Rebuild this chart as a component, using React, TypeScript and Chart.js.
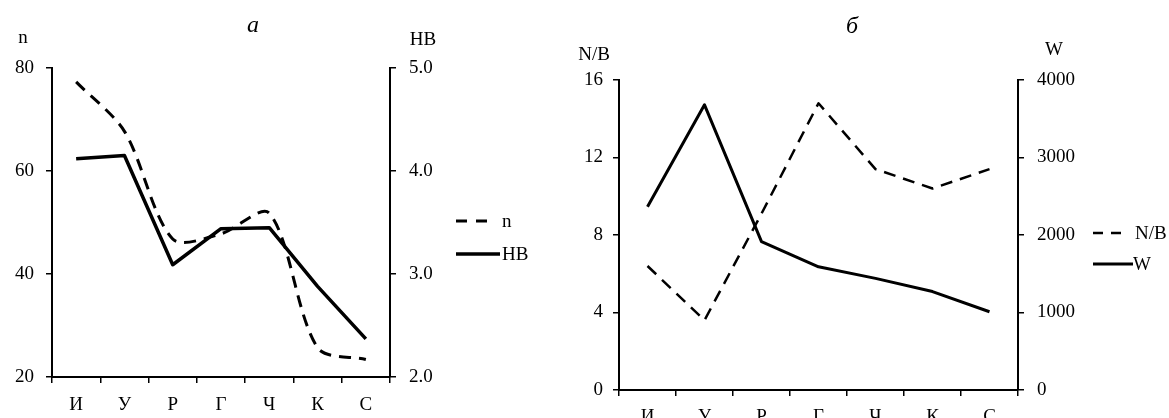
import { useEffect, useRef } from "react";
import { Chart, registerables } from "chart.js";

Chart.register(...registerables);

const FONT = '"Liberation Serif", "Times New Roman", serif';

// Shared categories
const categories = ["И", "У", "Р", "Г", "Ч", "К", "С"];

// Panel "a"
const nValues = [77.3, 67.7, 46.8, 47.8, 51.8, 25.7, 23.4];
const hbValues = [4.12, 4.15, 3.09, 3.44, 3.45, 2.88, 2.37];
const nTicks = [20, 40, 60, 80];
const hbTicks = [2, 3, 4, 5];

// Panel "б"
const nbValues = [6.4, 3.6, 9.1, 14.8, 11.4, 10.4, 11.4];
const wValues = [2365, 3680, 1915, 1590, 1440, 1270, 1010];
const nbTicks = [0, 4, 8, 12, 16];
const wTicks = [0, 1000, 2000, 3000, 4000];

type LegendSpec = { x0: number; x1: number; y: number; lw: number; dash: number[]; tx: number };
type OverlayOpts = {
  title: string;
  titleX: number;
  titleY: number;
  axisLabels: { text: string; x: number; y: number }[];
  legend: LegendSpec[];
};

const overlayPlugin = {
  id: "overlay",
  afterDraw(chart: any, _args: any, opts: OverlayOpts) {
    const ctx = chart.ctx as CanvasRenderingContext2D;
    ctx.save();
    ctx.fillStyle = "#000";
    ctx.strokeStyle = "#000";
    ctx.textAlign = "center";
    ctx.textBaseline = "alphabetic";
    ctx.font = `italic 24px ${FONT}`;
    ctx.fillText(opts.title, opts.titleX, opts.titleY);
    ctx.font = `19px ${FONT}`;
    for (const l of opts.axisLabels) ctx.fillText(l.text, l.x, l.y);
    opts.legend.forEach((item, i) => {
      const ds = chart.data.datasets[i];
      ctx.beginPath();
      ctx.setLineDash(item.dash);
      ctx.lineWidth = item.lw;
      ctx.lineCap = "butt";
      ctx.moveTo(item.x0, item.y);
      ctx.lineTo(item.x1, item.y);
      ctx.stroke();
      ctx.setLineDash([]);
      ctx.textAlign = "left";
      ctx.textBaseline = "middle";
      ctx.fillText(ds.label, item.tx, item.y + 1);
    });
    ctx.restore();
  },
};

type PanelSpec = {
  width: number;
  top: number;
  leftW: number;
  rightW: number;
  bottomH: number;
  leftTicks: number[];
  rightTicks: number[];
  rightDecimals: number;
  leftPad: number;
  rightPad: number;
  xPad: number;
  dashed: { label: string; data: number[]; width: number; tension: number };
  solid: { label: string; data: number[]; width: number };
  overlay: OverlayOpts;
};

function axisLine() {
  return { display: true, color: "#000", width: 2 };
}

function buildChart(canvas: HTMLCanvasElement, p: PanelSpec) {
  const tickFont = { family: FONT, size: 19 };
  return new Chart(canvas, {
    type: "line",
    data: {
      labels: categories,
      datasets: [
        {
          label: p.dashed.label,
          data: p.dashed.data,
          yAxisID: "y",
          borderColor: "#000",
          borderWidth: p.dashed.width,
          borderDash: [12, 8],
          tension: p.dashed.tension,
          pointRadius: 0,
          fill: false,
          borderJoinStyle: "round",
        },
        {
          label: p.solid.label,
          data: p.solid.data,
          yAxisID: "y1",
          borderColor: "#000",
          borderWidth: p.solid.width,
          tension: 0,
          pointRadius: 0,
          fill: false,
          borderJoinStyle: "round",
        },
      ],
    },
    options: {
      responsive: false,
      animation: false,
      events: [],
      layout: { padding: { top: p.top, left: 0, right: 0, bottom: 0 } },
      plugins: {
        legend: { display: false },
        tooltip: { enabled: false },
        title: { display: false },
        overlay: p.overlay,
      } as any,
      scales: {
        x: {
          type: "category",
          offset: true,
          afterFit: (s: any) => {
            s.height = p.bottomH;
          },
          grid: {
            offset: true,
            drawOnChartArea: false,
            drawTicks: true,
            tickLength: 6,
            color: "#000",
            lineWidth: 1.5,
          },
          border: axisLine(),
          ticks: { color: "#000", font: tickFont, padding: p.xPad, maxRotation: 0 },
        },
        y: {
          type: "linear",
          position: "left",
          min: p.leftTicks[0],
          max: p.leftTicks[p.leftTicks.length - 1],
          afterFit: (s: any) => {
            s.width = p.leftW;
          },
          grid: { drawOnChartArea: false, drawTicks: true, tickLength: 6, color: "#000", lineWidth: 1.5 },
          border: axisLine(),
          ticks: {
            stepSize: p.leftTicks[1] - p.leftTicks[0],
            color: "#000",
            font: tickFont,
            padding: p.leftPad,
          },
        },
        y1: {
          type: "linear",
          position: "right",
          min: p.rightTicks[0],
          max: p.rightTicks[p.rightTicks.length - 1],
          afterFit: (s: any) => {
            s.width = p.rightW;
          },
          grid: { drawOnChartArea: false, drawTicks: true, tickLength: 6, color: "#000", lineWidth: 1.5 },
          border: axisLine(),
          ticks: {
            stepSize: p.rightTicks[1] - p.rightTicks[0],
            color: "#000",
            font: tickFont,
            padding: p.rightPad,
            callback: (v: any) => Number(v).toFixed(p.rightDecimals),
          },
        },
      },
    },
    plugins: [overlayPlugin],
  } as any);
}

const panelA: PanelSpec = {
  width: 560,
  top: 68,
  leftW: 52,
  rightW: 170,
  bottomH: 41,
  leftTicks: nTicks,
  rightTicks: hbTicks,
  rightDecimals: 1,
  leftPad: 12,
  rightPad: 13,
  xPad: 11,
  dashed: { label: "n", data: nValues, width: 3, tension: 0.3 },
  solid: { label: "HB", data: hbValues, width: 3.5 },
  overlay: {
    title: "a",
    titleX: 253,
    titleY: 32,
    axisLabels: [
      { text: "n", x: 23, y: 43 },
      { text: "HB", x: 423, y: 45 },
    ],
    legend: [
      { x0: 456, x1: 490, y: 221, lw: 3, dash: [11, 9], tx: 502 },
      { x0: 456, x1: 500, y: 254, lw: 3.5, dash: [], tx: 502 },
    ],
  },
};

const panelB: PanelSpec = {
  width: 609,
  top: 80,
  leftW: 59,
  rightW: 151,
  bottomH: 28,
  leftTicks: nbTicks,
  rightTicks: wTicks,
  rightDecimals: 0,
  leftPad: 10,
  rightPad: 13,
  xPad: 10,
  dashed: { label: "N/B", data: nbValues, width: 2.5, tension: 0 },
  solid: { label: "W", data: wValues, width: 3 },
  overlay: {
    title: "б",
    titleX: 292,
    titleY: 33,
    axisLabels: [
      { text: "N/B", x: 34, y: 60 },
      { text: "W", x: 494, y: 55 },
    ],
    legend: [
      { x0: 533, x1: 563, y: 233, lw: 2.5, dash: [10, 8], tx: 575 },
      { x0: 533, x1: 573, y: 264, lw: 3, dash: [], tx: 573 },
    ],
  },
};

function Panel({ spec, left }: { spec: PanelSpec; left: number }) {
  const ref = useRef<HTMLCanvasElement | null>(null);
  useEffect(() => {
    if (!ref.current) return;
    const chart = buildChart(ref.current, spec);
    return () => chart.destroy();
  }, [spec]);
  return (
    <canvas
      ref={ref}
      width={spec.width}
      height={418}
      style={{ position: "absolute", left, top: 0, width: spec.width, height: 418 }}
    />
  );
}

export default function App() {
  return (
    <div
      style={{
        position: "fixed",
        left: 0,
        top: 0,
        width: 1169,
        height: 418,
        background: "#fff",
        overflow: "hidden",
      }}
    >
      <Panel spec={panelA} left={0} />
      <Panel spec={panelB} left={560} />
    </div>
  );
}
